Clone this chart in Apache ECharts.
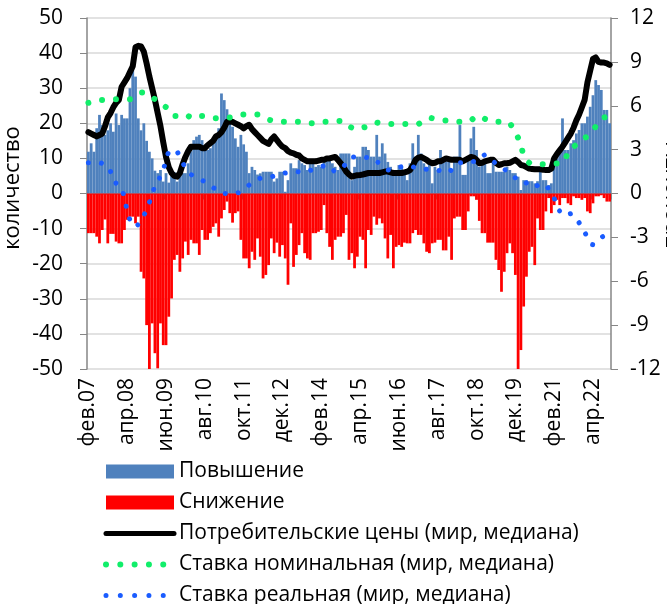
<!DOCTYPE html>
<html>
<head>
<meta charset="utf-8">
<script src="https://cdn.jsdelivr.net/npm/echarts@6/dist/echarts.min.js"></script>
<style>
html, body { margin: 0; padding: 0; background: #fff; }
#chart { width: 667px; height: 604px; }
</style>
</head>
<body>
<div id="chart"></div>
<script>
// categories: monthly, feb 2007 .. oct 2022
const monthNames = ['янв', 'фев', 'мар', 'апр', 'май', 'июн', 'июл', 'авг', 'сен', 'окт', 'ноя', 'дек']
const startYear = 2007
const startMonth = 1
const monthCount = 189
const categories = []
for (let i = 0; i < monthCount; i++) {
  const k = startMonth + i
  const yy = (startYear + Math.floor(k / 12)) % 100
  categories.push(monthNames[k % 12] + '.' + String(yy).padStart(2, '0'))
}

// number of countries raising rates (left axis)
const raised = [
  11.9, 14.3, 11.9, 18.6, 22.4, 19.5, 16.7, 18, 20, 17.6,
  22.8, 19.5, 22.4, 21.4, 21.4, 30, 36.6, 33.3, 21.4, 18,
  20, 15, 11.9, 10, 6.5, 5.8, 6.7, 3.4, 5.8, 3.1,
  5, 6.1, 3.4, 5.8, 5.8, 5.8, 8.6, 12, 15.2, 16.2,
  16.7, 15.2, 13.8, 12.4, 12.9, 15, 16.7, 18.6, 28.5, 26.6,
  24, 22.4, 19, 15.7, 13.3, 16.7, 14, 11.9, 5.8, 7.6,
  6.7, 5.4,
  5.75, 6.2, 6.2, 6.2, 6.2, 3.4, 4.3, 6.2, 6.2, 0.5,
  3.8, 8.6, 7.2, 7.2, 9.5, 8.6, 8.1, 6.7, 9.5, 9.5,
  7.6, 8.1, 7.6, 9.5, 9.5, 9.5, 8.6, 7.6, 6.7, 11.4,
  11.4, 11.4, 11.4, 3.8, 7.6, 10.5, 10.5, 13.3, 13.3, 12.4,
  10.5, 10.5, 16.7, 10.5, 14.3, 11.4, 9, 7.6, 6.2, 6.7,
  8.1, 7.2, 6, 3.8, 8.6, 14.3, 10.5, 16.7, 11.4, 8.6,
  7.6, 9.5, 2.9, 7.6, 6.7,
  12.4, 9.1, 9.1, 10, 6.7, 10.5, 10.5, 19.5, 5.3, 5.3,
  10.5, 15.7, 19, 12.4, 7.6, 9.5, 9.5, 5.8, 5.8, 9.1,
  6.2, 6.2, 6.2, 6.2, 7.6, 6.7, 5.8, 5.8, 4.8, 1,
  3.8, 3.8, 3.5, 3.5, 2.9, 3.5, 6.2, 3.8, 3.8, 2.4,
  2.9, 9.5, 10, 12.4, 21.4, 12.4, 12.4, 14.3, 15.2, 17.1,
  18.1, 20, 20, 21.9, 24.7, 28, 32.3, 30.9, 29.5, 23.8,
  23.8, 20
]

// number of countries cutting rates (left axis, negative)
const cut = [
  -11.3, -11.3, -11.3, -12.3, -14.2, -10.4, -7.4, -14.2, -11.5, -11.5,
  -13.7, -14.2, -14.2, -10.4, -7.5, -6.6, -6.6, -8.5, -6.6, -22.3,
  -24.2, -37.5, -50, -37, -45.5, -49.8, -37, -43.2, -43.2, -35.1,
  -29.9, -18.9, -17.5, -22.3, -18.5, -13.7, -17.5, -13.2, -14.2, -14.2,
  -17.5, -10.4, -13.2, -13.2, -11.3, -9.5, -8.5, -12.3, -7.1, -4.7,
  -2.3, -5.6, -8.3, -5.6, -5.1, -13.2, -18.5, -18.5, -21.3, -16.6,
  -18.9, -12.8,
  -18, -24.2, -23.2, -20.4, -12.8, -17, -14, -18, -14.7, -18.5,
  -26, -8.5, -20.9, -17.5, -14.7, -11.3, -17, -18.5, -18.9, -11.3,
  -11.3, -10.9, -10.4, -3.3, -11.3, -15.2, -18.9, -13.2, -12.3, -12.3,
  -11.3, -6.1, -18.9, -17, -21.3, -18, -12.3, -13.2, -21.3, -10.4,
  -11.8, -6.6, -8.9, -7.1, -8.5, -12.8, -18.5, -11.8, -21.3, -15.2,
  -14.7, -15.2, -14, -14.2, -14.2, -11.3, -10.4, -11.8, -11.8, -14.2,
  -16.6, -17, -14.2, -14, -13.2,
  -13.2, -16.2, -16.2, -12.3, -18.9, -7.1, -6.6, -6.6, -10.4, -10.4,
  -5.1, -0.8, -0.8, -1.8, -7.8, -11.3, -11.3, -14, -14, -14,
  -18.9, -21.8, -28, -22.3, -17, -14.2, -17, -23.2, -50, -44.6,
  -32.2, -23.7, -16.6, -15.2, -20.4, -7.1, -10.4, -10.4, -5.1, -1.3,
  -5.6, -3.3, -1.8, -3.3, -1.3, -1.3, -2.8, -3.3, -0.8, -1.3,
  -1.3, -1.8, -1.3, -5.1, -5.6, -2.8, -0.8, -0.8, -0.5, -1.3,
  -2.3, -2.3
]

// consumer prices, world median, % (right axis)
const cpi = [
  4.2, 4.1, 4.0, 3.9, 4.0, 4.1, 4.6, 5.2, 5.5, 5.9,
  6.2, 6.4, 7.3, 7.6, 7.9, 8.3, 8.7, 10.0, 10.1, 10.05,
  9.7, 8.9, 8.0, 7.2, 6.4, 5.5, 4.6, 3.5, 2.5, 1.8,
  1.4, 1.2, 1.15, 1.4, 2.0, 2.5, 2.9, 3.2, 3.2, 3.2,
  3.2, 3.1, 3.1, 3.3, 3.45, 3.6, 3.9, 4.0, 4.2, 4.5,
  4.9, 4.9, 4.9, 4.8, 4.7, 4.6, 4.45, 4.6, 4.7, 4.4,
  4.2, 4.0, 3.8, 3.6, 3.5, 3.4, 3.7, 3.9, 3.65, 3.4,
  3.2, 3.1, 2.9, 2.8, 2.75, 2.65, 2.6, 2.4, 2.3, 2.2,
  2.2, 2.2, 2.2, 2.25, 2.3, 2.3, 2.4, 2.4, 2.45, 2.5,
  2.3, 2.07, 1.8, 1.5, 1.3, 1.15, 1.2, 1.25, 1.27, 1.3,
  1.35, 1.4, 1.4, 1.4, 1.4, 1.4, 1.45, 1.5, 1.5, 1.45,
  1.4, 1.4, 1.4, 1.4, 1.45, 1.5, 1.6, 1.9, 2.3, 2.45,
  2.5, 2.4, 2.3, 2.15, 2.07, 2.1, 2.2, 2.2, 2.3, 2.4,
  2.35, 2.3, 2.3, 2.3, 2.3, 2.2, 2.3, 2.4, 2.5, 2.45,
  2.3, 2.07, 2.1, 2.2, 2.25, 2.3, 2.3, 2.1, 1.95, 2.0,
  2.07, 2.07, 2.1, 2.2, 2.3, 2.15, 1.95, 1.9, 1.8, 1.7,
  1.68, 1.66, 1.65, 1.65, 1.63, 1.6, 1.6, 1.7, 2.4, 2.7,
  2.95, 3.2, 3.5, 3.8, 4.1, 4.5, 5.0, 5.4, 5.9, 6.4,
  7.6, 8.4, 9.2, 9.3, 9.0, 8.95, 8.95, 8.9, 8.8
]

// nominal policy rate, world median, %
const nominalRate = [
  6.2, 6.25, 6.3, 6.35, 6.4, 6.4, 6.45, 6.45, 6.45, 6.45,
  6.45, 6.45, 6.45, 6.45, 6.45, 6.45, 6.55, 6.7, 6.8, 6.9,
  6.9, 6.8, 6.7, 6.55, 6.45, 6.3, 6.2, 6.0, 5.9, 5.6,
  5.4, 5.3, 5.3, 5.35, 5.4, 5.4, 5.3, 5.2, 5.15, 5.15,
  5.2, 5.3, 5.3, 5.25, 5.2, 5.15, 5.15, 5.15, 5.2, 5.2,
  5.2, 5.2, 5.25, 5.3, 5.35, 5.4, 5.4, 5.4, 5.4, 5.4,
  5.4, 5.4, 5.3, 5.2, 5.1, 5.05, 5.0, 4.95, 4.95, 4.9,
  4.9, 4.9, 4.9, 4.9, 4.9, 4.9, 4.9, 4.9, 4.85, 4.85,
  4.8, 4.8, 4.8, 4.85, 4.85, 4.9, 4.9, 4.9, 4.9, 4.95,
  4.95, 4.95, 4.95, 4.8, 4.6, 4.5, 4.4, 4.4, 4.45, 4.5,
  4.55, 4.6, 4.7, 4.8, 4.85, 4.8, 4.8, 4.75, 4.75, 4.75,
  4.75, 4.75, 4.75, 4.75, 4.75, 4.75, 4.75, 4.75, 4.75, 4.75,
  4.9, 5.0, 5.1, 5.17, 5.15, 5.1, 5.08, 5.05, 5.0, 5.0,
  4.97, 4.95, 4.95, 4.9, 4.9, 4.9, 4.9, 4.9, 5.0, 5.15,
  5.25, 5.3, 5.2, 5.1, 5.0, 4.95, 4.9, 4.9, 4.9, 4.9,
  4.9, 4.9, 4.8, 4.5, 4.2, 3.8, 3.3, 2.6, 2.3, 2.1,
  2.0, 2.0, 2.0, 2.0, 2.0, 2.0, 2.0, 2.0, 2.05, 2.05,
  2.1, 2.1, 2.3, 2.9, 3.1, 3.2, 3.35, 3.5, 3.6, 3.8,
  3.9, 4.05, 4.3, 4.6, 4.9, 5.1, 5.2, 5.25, 5.3
]

// real policy rate, world median, %
const realRate = [
  2.1, 2.1, 2.1, 2.1, 2.1, 2.05, 1.95, 1.85, 1.5, 0.9,
  0.7, 0.5, 0.3, -0.3, -1.2, -1.8, -2.1, -2.27, -2.1, -1.8,
  -1.5, -1.1, -0.6, -0.2, 0.6, 0.9, 1.15, 1.6, 2.3, 2.85,
  3.0, 2.95, 2.85, 2.5, 2.1, 1.8, 1.5, 1.3, 1.2, 1.1,
  1.0, 0.9, 0.8, 0.65, 0.5, 0.4, 0.3, 0.15, 0.02, 0.0,
  0.0, 0.0, 0.0, 0.03, 0.05, 0.15, 0.3, 0.45, 0.58, 0.7,
  0.82, 0.95, 1.04, 1.08, 1.1, 1.13, 1.15, 1.2, 1.25, 1.32,
  1.38, 1.4, 1.43, 1.47, 1.5, 1.5, 1.47, 1.43, 1.48, 1.53,
  1.58, 1.63, 1.66, 1.74, 1.82, 1.9, 1.95, 1.8, 1.65, 1.5,
  1.6, 1.7, 1.84, 2.1, 2.35, 2.5, 2.5, 2.5, 2.49, 2.48,
  2.47, 2.45, 2.43, 2.4, 2.2, 2.05, 1.9, 1.75, 1.62, 1.6,
  1.68, 1.76, 1.8, 1.83, 1.86, 1.88, 1.9, 1.83, 1.75, 1.68,
  1.66, 1.66, 1.66, 1.66, 1.64, 1.61, 1.58, 1.56, 1.52, 1.47,
  1.43, 1.65, 1.85, 2.07, 2.1, 2.13, 2.16, 2.18, 2.18, 2.18,
  2.18, 2.35, 2.5, 2.64, 2.5, 2.35, 2.2, 2.05, 1.9, 1.75,
  1.66, 1.5, 1.3, 1.15, 1.07, 1.06, 1.05, 0.95, 0.7, 0.47,
  0.47, 0.47, 0.55, 0.62, 0.68, 0.6, 0.3, 0.0, -0.3, -0.95,
  -1.2, -1.4, -1.52, -1.45, -1.38, -1.5, -1.75, -2.0, -2.3, -2.65,
  -3.0, -3.4, -3.5, -3.35, -3.15, -3.0, -2.9
]

const FONT = '"Open Sans", "Noto Sans", sans-serif'

const GREEN = '#11ee6a'
const BLUE_DOT = '#1a5cff'

const chart = echarts.init(document.getElementById('chart'), null, { renderer: 'canvas' })

const hiddenMarker = { color: 'rgba(0,0,0,0)', opacity: 0, borderWidth: 0 }

const option = {
  animation: false,
  backgroundColor: '#fff',
  textStyle: { fontFamily: FONT, color: '#000' },
  grid: { left: 87, right: 56, top: 18, bottom: 235, containLabel: false, outerBoundsMode: 'none' },
  legend: {
    orient: 'vertical',
    left: 103,
    top: 461,
    height: 200,
    padding: 0,
    itemWidth: 68,
    itemHeight: 14,
    itemGap: 10,
    textStyle: { fontFamily: FONT, fontSize: 21, lineHeight: 20, color: '#000' },
    data: [
      { name: 'Повышение', icon: 'rect' },
      { name: 'Снижение', icon: 'rect' },
      {
        name: 'Потребительские цены (мир, медиана)',
        itemStyle: hiddenMarker,
        lineStyle: { color: '#000', width: 5, cap: 'round', type: 'solid' },
      },
      {
        name: 'Ставка номинальная (мир, медиана)',
        itemStyle: hiddenMarker,
        lineStyle: { color: GREEN, width: 6, cap: 'round', type: [0.01, 14.3] },
      },
      {
        name: 'Ставка реальная (мир, медиана)',
        itemStyle: hiddenMarker,
        lineStyle: { color: BLUE_DOT, width: 5, cap: 'round', type: [0.01, 14.3] },
      },
    ],
  },
  xAxis: [
    {
      // zero line with ticks
      type: 'category',
      data: categories,
      boundaryGap: true,
      axisLine: { onZero: true, lineStyle: { color: '#868686', width: 1.5 } },
      axisTick: { show: true, interval: 13, length: 6, lineStyle: { color: '#868686' } },
      axisLabel: { show: false },
      splitLine: { show: false },
    },
    {
      // labels at the bottom
      type: 'category',
      data: categories,
      position: 'bottom',
      boundaryGap: true,
      axisLine: { show: false, onZero: false },
      axisTick: { show: false },
      axisLabel: { interval: 13, rotate: 90, margin: 9, fontSize: 21, color: '#000', fontFamily: FONT },
      splitLine: { show: false },
    },
  ],
  yAxis: [
    {
      type: 'value',
      min: -50,
      max: 50,
      interval: 10,
      axisLine: { show: true, lineStyle: { color: '#868686', width: 1.5 } },
      axisTick: { show: true, length: 7, lineStyle: { color: '#868686' } },
      axisLabel: { fontSize: 21, margin: 24, color: '#000', fontFamily: FONT },
      splitLine: { lineStyle: { color: '#d9d9d9', width: 1.5 } },
    },
    {
      type: 'value',
      position: 'right',
      min: -12,
      max: 12,
      interval: 3,
      axisLine: { show: true, lineStyle: { color: '#868686', width: 1.5 } },
      axisTick: { show: true, length: 7, lineStyle: { color: '#868686' } },
      axisLabel: { fontSize: 21, margin: 19, color: '#000', fontFamily: FONT },
      splitLine: { show: false },
    },
  ],
  graphic: [
    {
      type: 'text',
      rotation: Math.PI / 2,
      x: 13, y: 188,
      style: { text: 'количество', font: '22px ' + FONT, fill: '#000', align: 'center', verticalAlign: 'middle' },
    },
    {
      type: 'text',
      rotation: Math.PI / 2,
      x: 672, y: 195,
      style: { text: 'проценты', font: '22px ' + FONT, fill: '#000', align: 'center', verticalAlign: 'middle' },
    },
  ],
  series: [
    {
      name: 'Повышение',
      type: 'bar',
      data: raised,
      itemStyle: { color: '#4f81bd' },
      barCategoryGap: '0%',
      barGap: '-100%',
    },
    {
      name: 'Снижение',
      type: 'bar',
      data: cut,
      itemStyle: { color: '#ff0000' },
      barCategoryGap: '0%',
      barGap: '-100%',
    },
    {
      name: 'Потребительские цены (мир, медиана)',
      type: 'line',
      yAxisIndex: 1,
      data: cpi,
      symbol: 'none',
      lineStyle: { color: '#000', width: 6, cap: 'round', join: 'round' },
      itemStyle: { color: '#000' },
    },
    {
      name: 'Ставка номинальная (мир, медиана)',
      type: 'line',
      yAxisIndex: 1,
      data: nominalRate,
      symbol: 'none',
      smooth: 0.3,
      lineStyle: { color: GREEN, width: 6, type: [0.01, 14], cap: 'round' },
      itemStyle: { color: GREEN },
    },
    {
      name: 'Ставка реальная (мир, медиана)',
      type: 'line',
      yAxisIndex: 1,
      data: realRate,
      symbol: 'none',
      smooth: 0.3,
      lineStyle: { color: BLUE_DOT, width: 5, type: [0.01, 13], cap: 'round' },
      itemStyle: { color: BLUE_DOT },
    },
  ],
}

chart.setOption(option)
</script>
</body>
</html>
